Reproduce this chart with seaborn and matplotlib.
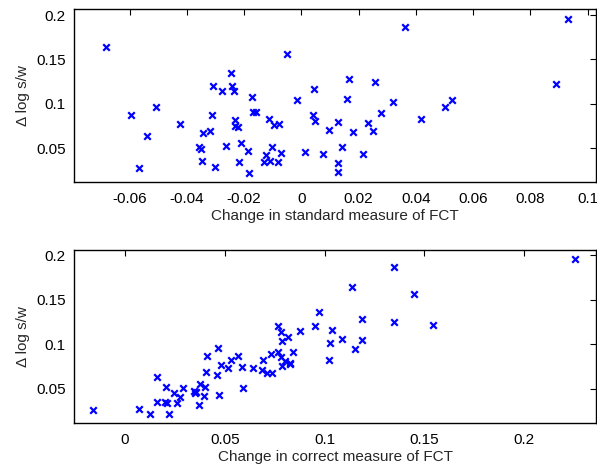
import numpy as np
import pandas as pd
import seaborn as sns
import matplotlib.pyplot as plt

# Top panel: change in standard measure of FCT vs change in log s/w
fct_standard = [-0.0683, -0.0594, -0.0568, -0.0538, -0.0506, -0.0423, -0.0357, -0.0351,
                -0.0347, -0.0342, -0.0319, -0.0312, -0.0310, -0.0301, -0.0277, -0.0264,
                -0.0246, -0.0242, -0.0235, -0.0232, -0.0232, -0.0223, -0.0218, -0.0210,
                -0.0187, -0.0183, -0.0173, -0.0170, -0.0158, -0.0131, -0.0122, -0.0114,
                -0.0109, -0.0102, -0.0097, -0.0080, -0.0077, -0.0072, -0.0051, -0.0014,
                0.0014, 0.0043, 0.0042, 0.0047, 0.0074, 0.0095, 0.0128, 0.0128,
                0.0128, 0.0142, 0.0160, 0.0168, 0.0179, 0.0216, 0.0232, 0.0250,
                0.0258, 0.0279, 0.0319, 0.0363, 0.0419, 0.0501, 0.0526, 0.0890, 0.0932]
dlog_top = [0.164, 0.087, 0.028, 0.064, 0.096, 0.077, 0.052, 0.049,
            0.036, 0.067, 0.070, 0.088, 0.120, 0.029, 0.114, 0.053,
            0.135, 0.120, 0.115, 0.082, 0.075, 0.074, 0.035, 0.056,
            0.047, 0.022, 0.108, 0.091, 0.091, 0.034, 0.042, 0.083,
            0.036, 0.052, 0.076, 0.034, 0.077, 0.045, 0.156, 0.104,
            0.046, 0.117, 0.087, 0.081, 0.043, 0.071, 0.023, 0.033,
            0.080, 0.052, 0.106, 0.128, 0.068, 0.044, 0.078, 0.069,
            0.125, 0.090, 0.102, 0.187, 0.083, 0.096, 0.104, 0.122, 0.195]

# Bottom panel: change in correct measure of FCT
fct_correct = [-0.0158, 0.0070, 0.0127, 0.0160, 0.0160, 0.0207, 0.0203, 0.0213,
               0.0220, 0.0247, 0.0262, 0.0278, 0.0293, 0.0347, 0.0353, 0.0358,
               0.0372, 0.0378, 0.0397, 0.0402, 0.0405, 0.0413, 0.0460, 0.0468,
               0.0472, 0.0480, 0.0517, 0.0530, 0.0568, 0.0587, 0.0590, 0.0642,
               0.0687, 0.0693, 0.0712, 0.0732, 0.0738, 0.0768, 0.0765, 0.0780,
               0.0783, 0.0788, 0.0788, 0.0803, 0.0818, 0.0825, 0.0828, 0.0840,
               0.0875, 0.0950, 0.0972, 0.1025, 0.1022, 0.1037, 0.1088, 0.1138,
               0.1153, 0.1187, 0.1187, 0.1348, 0.1347, 0.1450, 0.1545, 0.2255]
dlog_bottom = [0.027, 0.028, 0.022, 0.063, 0.035, 0.052, 0.035, 0.034,
               0.022, 0.045, 0.034, 0.041, 0.051, 0.048, 0.045, 0.047,
               0.032, 0.056, 0.042, 0.052, 0.069, 0.087, 0.066, 0.096,
               0.043, 0.077, 0.074, 0.082, 0.087, 0.075, 0.051, 0.073,
               0.071, 0.083, 0.068, 0.089, 0.068, 0.091, 0.121, 0.114,
               0.086, 0.076, 0.104, 0.081, 0.108, 0.078, 0.079, 0.091,
               0.115, 0.121, 0.136, 0.101, 0.083, 0.116, 0.106, 0.164,
               0.095, 0.128, 0.105, 0.187, 0.125, 0.156, 0.122, 0.196]

top = pd.DataFrame({'x': fct_standard, 'y': dlog_top})
bottom = pd.DataFrame({'x': fct_correct, 'y': dlog_bottom})

sns.set_style('white')
plt.rcParams['font.family'] = ['Liberation Sans', 'DejaVu Sans']
plt.rcParams['font.size'] = 11
plt.rcParams['xtick.direction'] = 'in'
plt.rcParams['ytick.direction'] = 'in'

fig = plt.figure(figsize=(5.97, 4.66), dpi=100)
W, H = 597, 466
ax1 = fig.add_axes([74 / W, 1 - 182.3 / H, (596 - 74) / W, (182.3 - 9) / H])
ax2 = fig.add_axes([74 / W, 1 - 423.3 / H, (596 - 74) / W, (423.3 - 250) / H])

panels = [
    (ax1, top, 'Change in standard measure of FCT', (-0.0794, 0.1029), (0.0117, 0.2068),
     [-0.06, -0.04, -0.02, 0, 0.02, 0.04, 0.06, 0.08, 0.1],
     ['-0.06', '-0.04', '-0.02', '0', '0.02', '0.04', '0.06', '0.08', '0.1']),
    (ax2, bottom, 'Change in correct measure of FCT', (-0.0255, 0.2359), (0.0116, 0.2056),
     [0, 0.05, 0.1, 0.15, 0.2],
     ['0', '0.05', '0.1', '0.15', '0.2']),
]

for ax, df, xlabel, xlim, ylim, xt, xtl in panels:
    sns.scatterplot(data=df, x='x', y='y', ax=ax, marker='x', color='#0000ff',
                    s=22, linewidth=1.6)
    ax.set_xlim(*xlim)
    ax.set_ylim(*ylim)
    ax.set_xticks(xt)
    ax.set_xticklabels(xtl)
    ax.set_yticks([0.05, 0.1, 0.15, 0.2])
    ax.set_yticklabels(['0.05', '0.1', '0.15', '0.2'])
    ax.tick_params(top=True, right=True, length=4, width=0.8, labelsize=11,
                   colors='black')
    ax.tick_params(axis='x', pad=7)
    ax.tick_params(axis='y', pad=6)
    for s in ax.spines.values():
        s.set_color('black')
        s.set_linewidth(1.0)
    ax.set_xlabel(xlabel, fontsize=11, labelpad=2)
    ax.set_ylabel('\u0394 log s/w', fontsize=11, labelpad=4)

fig.savefig('out.png', dpi=100)
